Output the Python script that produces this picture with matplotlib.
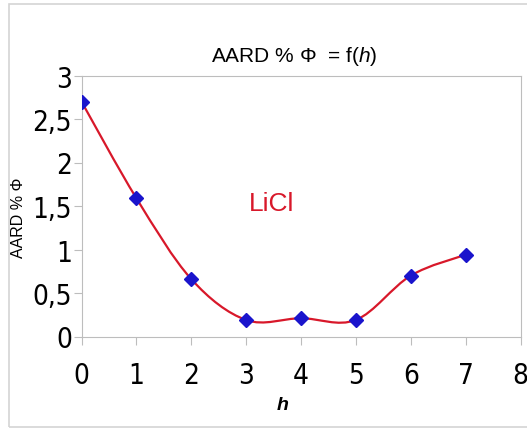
import matplotlib
matplotlib.use("Agg")
import matplotlib.pyplot as plt
import numpy as np
from matplotlib.path import Path
from matplotlib.patches import PathPatch, Rectangle

h = [0, 1, 2, 3, 4, 5, 6, 7]
aard = [2.70, 1.59, 0.66, 0.19, 0.21, 0.19, 0.70, 0.94]
xticks = [0, 1, 2, 3, 4, 5, 6, 7, 8]
yticks = [0, 0.5, 1, 1.5, 2, 2.5, 3]
ylabels = ["0", "0,5", "1", "1,5", "2", "2,5", "3"]

RED = "#d8182a"
BLUE = "#1a14cc"
GREY = "#bdbdbd"
SANS = ["Liberation Sans", "DejaVu Sans"]

plt.rcParams["mathtext.fontset"] = "custom"
plt.rcParams["mathtext.rm"] = "Liberation Sans"
plt.rcParams["mathtext.it"] = "Liberation Sans:italic"


def smooth_path(xs, ys):
    # Excel-style smoothed line: cubic Bezier segments, Catmull-Rom tangents
    pts = np.column_stack([xs, ys]).astype(float)
    n = len(pts)
    verts = [pts[0]]
    codes = [Path.MOVETO]
    for i in range(n - 1):
        p0 = pts[i - 1] if i > 0 else pts[i]
        p1, p2 = pts[i], pts[i + 1]
        p3 = pts[i + 2] if i + 2 < n else pts[i + 1]
        c1 = p1 + (p2 - p0) / 6
        c2 = p2 - (p3 - p1) / 6
        verts += [c1, c2, p2]
        codes += [Path.CURVE4] * 3
    return Path(verts, codes)


fig = plt.figure(figsize=(5.27, 4.31), dpi=100)
fig.patches.append(Rectangle((9 / 527, 3 / 431), 1.2, 423 / 431, transform=fig.transFigure,
                             fill=False, ec="#d4d4d4", lw=1.2))
ax = fig.add_axes([81.5 / 527, 1 - 337.5 / 431, 439 / 527, 261 / 431])

ax.add_patch(PathPatch(smooth_path(h, aard), fc="none", ec=RED, lw=1.6, zorder=2))
ax.plot(h, aard, ls="none", marker="D", ms=7.5, color=BLUE, mec=BLUE, zorder=3)

ax.set_xlim(0, 8)
ax.set_ylim(0, 3)
ax.set_xticks(xticks)
ax.set_xticklabels([str(t) for t in xticks], family="DejaVu Sans", stretch="condensed", fontsize=20)
ax.set_yticks(yticks)
ax.set_yticklabels(ylabels, family="DejaVu Sans", stretch="condensed", fontsize=20)
ax.tick_params(axis="both", colors=GREY, labelcolor="black", length=6, width=0.8)
ax.tick_params(axis="x", pad=12)
ax.tick_params(axis="y", pad=1)
for s in ax.spines.values():
    s.set_color(GREY)
    s.set_linewidth(0.8)

fig.text(283 / 527, 1 - 406 / 431, "h", style="italic", weight="bold", family=SANS,
         fontsize=14, ha="center", va="center")
fig.text(19 / 527, 1 - 218 / 431, "AARD % \u03a6", rotation=90, family=SANS, fontsize=11.5,
         ha="center", va="center")
fig.text(294 / 527, 1 - 57 / 431, "AARD % \u03a6  = f($h$)", ha="center", va="center",
         family=SANS, fontsize=15)
ax.text(3.47, 1.54, "LiCl", color=RED, family=SANS, fontsize=19, ha="center", va="center")

fig.savefig("out.png", dpi=100)
